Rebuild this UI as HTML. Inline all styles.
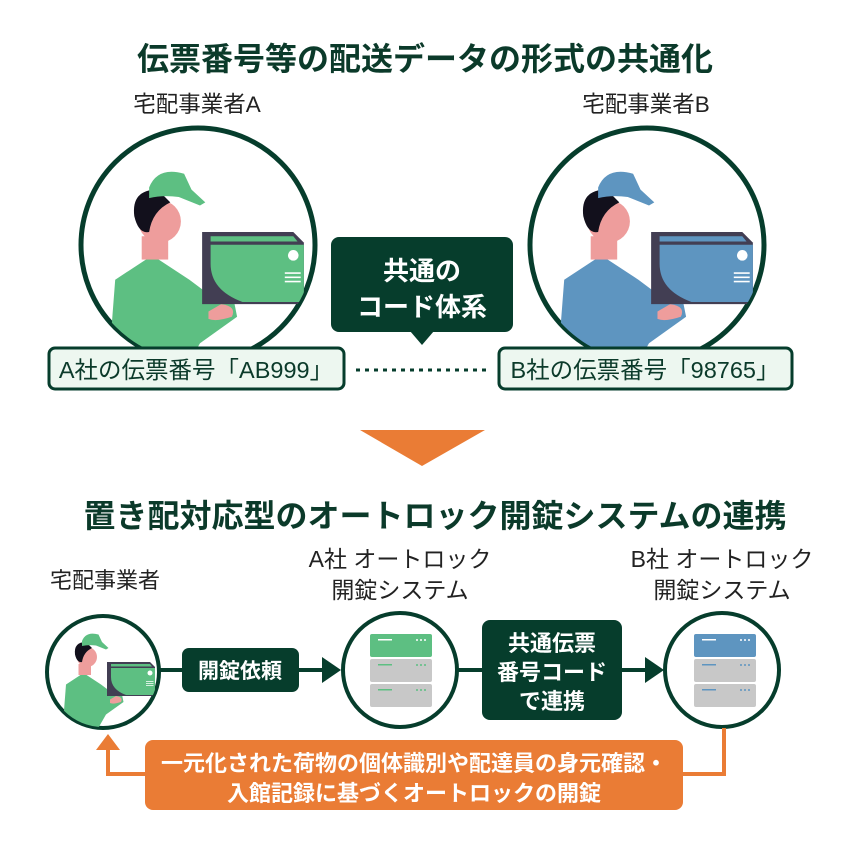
<!DOCTYPE html>
<html><head><meta charset="utf-8"><style>
body{margin:0;background:#fff}
svg text{font-family:"Liberation Sans","Noto Sans CJK JP",sans-serif}
</style></head><body>
<svg width="864" height="844" viewBox="0 0 864 844" xmlns="http://www.w3.org/2000/svg">
<defs>
<g id="person">
 <path d="M-85 10 L-80 -55 L-45 -78 L-10 -55 L10 -40 L30 -45 L35 -20 L0 5 L-20 40 L-85 40 Z"/>
 <rect x="-55" y="-96" width="25" height="22" fill="#ee9d9c"/>
 <circle cx="-38" cy="-110" r="20" fill="#ee9d9c"/>
 <path d="M-62 -115 Q-65 -140 -40 -140 L-28 -128 Q-45 -120 -48 -100 Q-58 -98 -62 -115Z" fill="#12101c"/>
 <path d="M-48 -142 Q-40 -162 -15 -155 L-8 -140 L5 -128 L0 -125 L-20 -133 Q-35 -135 -48 -132Z"/>
 <path d="M8 -25 L20 -32 Q35 -30 30 -20 Q15 -15 8 -18Z" fill="#ee9d9c"/>
 <path d="M2 -100 L88 -100 L98 -90 L98 -32 L2 -32 Z" fill="#423e53"/>
 <path d="M10 -88 L98 -88 L98 -34 L40 -34 Q10 -45 10 -70 Z"/>
 <path d="M10 -96 L88 -96 L92 -91 L10 -91Z"/>
 <circle cx="88" cy="-78" r="5" fill="#fff"/>
 <rect x="80" y="-62" width="15" height="1.5" fill="#fff"/><rect x="80" y="-58" width="15" height="1.5" fill="#fff"/><rect x="80" y="-54" width="15" height="1.5" fill="#fff"/>
</g>
<clipPath id="cA"><circle cx="198" cy="245" r="116"/></clipPath>
<clipPath id="cB"><circle cx="647" cy="245" r="116"/></clipPath>
<clipPath id="cS"><circle cx="103" cy="672" r="55"/></clipPath>
</defs>

<text x="425" y="70" font-size="32" font-weight="bold" fill="#0b3a2a" text-anchor="middle">伝票番号等の配送データの形式の共通化</text>
<text x="197" y="112" font-size="22.5" fill="#222" text-anchor="middle">宅配事業者A</text>
<text x="646" y="112" font-size="22.5" fill="#222" text-anchor="middle">宅配事業者B</text>

<circle cx="198" cy="245" r="117" fill="#fff" stroke="#063d2c" stroke-width="5"/>
<g clip-path="url(#cA)"><use href="#person" transform="translate(200,338) scale(1.06)" fill="#5dbf82"/></g>
<circle cx="647" cy="245" r="117" fill="#fff" stroke="#063d2c" stroke-width="5"/>
<g clip-path="url(#cB)"><use href="#person" transform="translate(649,338) scale(1.06)" fill="#5e95c0"/></g>

<rect x="331" y="237" width="182" height="95" rx="8" fill="#063d2c"/>
<path d="M410 331 L422 345 L434 331Z" fill="#063d2c"/>
<text x="422" y="280" font-size="26" font-weight="bold" fill="#fff" text-anchor="middle">共通の</text>
<text x="422" y="316" font-size="26" font-weight="bold" fill="#fff" text-anchor="middle">コード体系</text>

<rect x="49" y="348" width="295" height="41" rx="6" fill="#edf7f0" stroke="#063d2c" stroke-width="3"/>
<text x="196" y="378" font-size="23.5" fill="#0b3a2a" text-anchor="middle">A社の伝票番号「AB999」</text>
<rect x="499" y="348" width="293" height="41" rx="6" fill="#edf7f0" stroke="#063d2c" stroke-width="3"/>
<text x="645" y="378" font-size="23.5" fill="#0b3a2a" text-anchor="middle">B社の伝票番号「98765」</text>
<line x1="356" y1="370" x2="490" y2="370" stroke="#063d2c" stroke-width="3" stroke-dasharray="4,5"/>

<path d="M360 430 L485 430 L422 466Z" fill="#ea7c35"/>

<text x="435" y="527" font-size="32" font-weight="bold" fill="#0b3a2a" text-anchor="middle">置き配対応型のオートロック開錠システムの連携</text>

<text x="105" y="588" font-size="22" fill="#222" text-anchor="middle">宅配事業者</text>
<text x="400" y="567" font-size="23" fill="#222" text-anchor="middle">A社 オートロック</text>
<text x="400" y="598" font-size="23" fill="#222" text-anchor="middle">開錠システム</text>
<text x="722" y="567" font-size="23" fill="#222" text-anchor="middle">B社 オートロック</text>
<text x="722" y="598" font-size="23" fill="#222" text-anchor="middle">開錠システム</text>

<line x1="160" y1="670" x2="330" y2="670" stroke="#063d2c" stroke-width="4"/>
<path d="M322 657 L341 670 L322 683Z" fill="#063d2c"/>
<line x1="458" y1="670" x2="652" y2="670" stroke="#063d2c" stroke-width="4"/>
<path d="M645 657 L664 670 L645 683Z" fill="#063d2c"/>

<circle cx="103" cy="672" r="56" fill="#fff" stroke="#063d2c" stroke-width="4"/>
<g clip-path="url(#cS)"><use href="#person" transform="translate(106,712) scale(0.5)" fill="#5dbf82"/></g>

<circle cx="400" cy="670" r="57" fill="#fff" stroke="#063d2c" stroke-width="4"/>
<rect x="370" y="634" width="62" height="23" rx="2" fill="#5dbf82"/>
<rect x="370" y="659" width="62" height="23" rx="2" fill="#c8c8c8"/>
<rect x="370" y="684" width="62" height="23" rx="2" fill="#c8c8c8"/>
<g fill="#fff"><rect x="378" y="639" width="14" height="1.5"/><circle cx="417" cy="640" r="1"/><circle cx="421" cy="640" r="1"/><circle cx="425" cy="640" r="1"/></g>
<g fill="#5dbf82"><rect x="378" y="664" width="14" height="1.5"/><rect x="378" y="689" width="14" height="1.5"/><circle cx="417" cy="665" r="1"/><circle cx="421" cy="665" r="1"/><circle cx="425" cy="665" r="1"/><circle cx="417" cy="690" r="1"/><circle cx="421" cy="690" r="1"/><circle cx="425" cy="690" r="1"/></g>

<circle cx="722" cy="670" r="57" fill="#fff" stroke="#063d2c" stroke-width="4"/>
<rect x="694" y="634" width="62" height="23" rx="2" fill="#5e95c0"/>
<rect x="694" y="659" width="62" height="23" rx="2" fill="#c8c8c8"/>
<rect x="694" y="684" width="62" height="23" rx="2" fill="#c8c8c8"/>
<g fill="#fff"><rect x="702" y="639" width="14" height="1.5"/><circle cx="741" cy="640" r="1"/><circle cx="745" cy="640" r="1"/><circle cx="749" cy="640" r="1"/></g>
<g fill="#5e95c0"><rect x="702" y="664" width="14" height="1.5"/><rect x="702" y="689" width="14" height="1.5"/><circle cx="741" cy="665" r="1"/><circle cx="745" cy="665" r="1"/><circle cx="749" cy="665" r="1"/><circle cx="741" cy="690" r="1"/><circle cx="745" cy="690" r="1"/><circle cx="749" cy="690" r="1"/></g>

<rect x="182" y="648" width="117" height="44" rx="7" fill="#063d2c"/>
<text x="240" y="678" font-size="21" font-weight="bold" fill="#fff" text-anchor="middle">開錠依頼</text>

<rect x="482" y="620" width="140" height="100" rx="8" fill="#063d2c"/>
<text x="552" y="651" font-size="22" font-weight="bold" fill="#fff" text-anchor="middle">共通伝票</text>
<text x="552" y="680" font-size="22" font-weight="bold" fill="#fff" text-anchor="middle">番号コード</text>
<text x="552" y="709" font-size="22" font-weight="bold" fill="#fff" text-anchor="middle">で連携</text>

<polyline points="724,728 724,774 670,774" fill="none" stroke="#ea7c35" stroke-width="4"/>
<polyline points="160,774 108,774 108,748" fill="none" stroke="#ea7c35" stroke-width="4"/>
<path d="M96 750 L108 734 L120 750Z" fill="#ea7c35"/>
<rect x="145" y="740" width="538" height="70" rx="8" fill="#ea7c35"/>
<text x="414" y="771" font-size="22" font-weight="bold" fill="#fff" text-anchor="middle">一元化された荷物の個体識別や配達員の身元確認・</text>
<text x="414" y="801" font-size="22" font-weight="bold" fill="#fff" text-anchor="middle">入館記録に基づくオートロックの開錠</text>
</svg>
</body></html>
